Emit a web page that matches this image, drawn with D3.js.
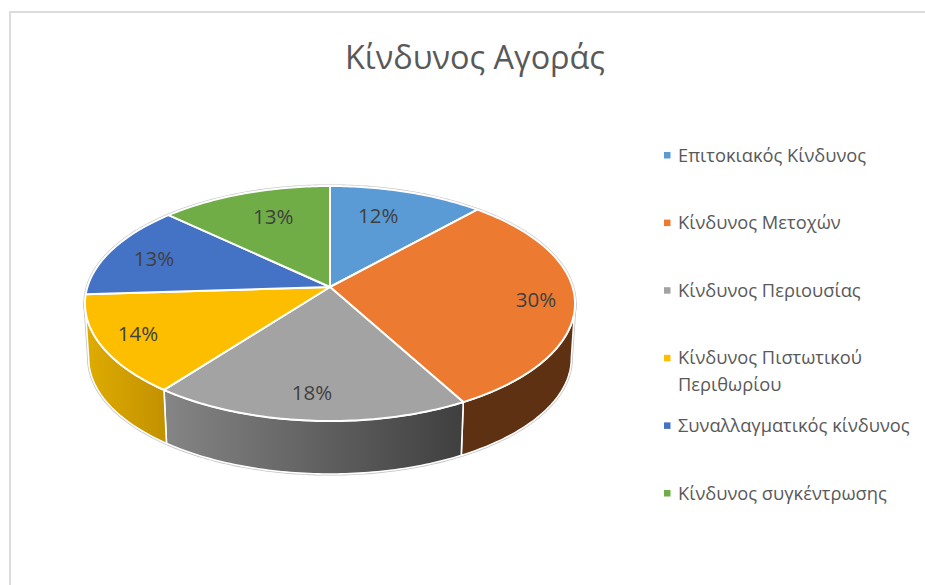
<!DOCTYPE html>
<html lang="el">
<head>
<meta charset="utf-8">
<title>Κίνδυνος Αγοράς</title>
<script src="https://cdn.jsdelivr.net/npm/d3@7"></script>
<style>
  html, body { margin: 0; padding: 0; background: #fff; }
  svg { display: block; }
  text { font-family: "Open Sans", "Noto Sans", sans-serif; }
</style>
</head>
<body>
<svg id="chart" width="925" height="585"></svg>
<script>
// --- data ---
const titleText = "Κίνδυνος Αγοράς";
const categories = ["Επιτοκιακός Κίνδυνος", "Κίνδυνος Μετοχών", "Κίνδυνος Περιουσίας",
                    "Κίνδυνος Πιστωτικού Περιθωρίου", "Συναλλαγματικός κίνδυνος", "Κίνδυνος συγκέντρωσης"];
const shares = [11.7, 30.3, 18.4, 13.6, 13, 13];
const legendLines = [["Επιτοκιακός Κίνδυνος"], ["Κίνδυνος Μετοχών"], ["Κίνδυνος Περιουσίας"],
                     ["Κίνδυνος Πιστωτικού", "Περιθωρίου"], ["Συναλλαγματικός κίνδυνος"], ["Κίνδυνος συγκέντρωσης"]];

// --- colours ---
const topColors = ["#5b9bd5", "#ec7b31", "#a3a3a3", "#fdbe00", "#4472c4", "#70ad47"];
const sideFrom  = ["#4a7fae", "#5f3113", "#858585", "#dfac00", "#38609f", "#5a8c39"];
const sideTo    = ["#4a7fae", "#5f3113", "#3f3f3f", "#c29100", "#38609f", "#5a8c39"];

// --- label placement tuning (radial fraction, turn in degrees) ---
const labelRadial = [0.708, 0.843, 0.818, 0.842, 0.792, 0.712];
const labelTurn = [-3.2, 0.9, 0.3, 0.8, -1.3, 2.3];

// --- layout ---
const W = 925, H = 585;
const cx = 330, cyTop = 287, depth = 55;
const R = 242.6, B = 115.2, K = 0.1404, lowerScale = 0.985;

const svg = d3.select("#chart");
const defs = svg.append("defs");

// Perspective projection of a point on the unit disc
function project(theta, f, lower) {
  const X = f * Math.sin(theta), Y = -f * Math.cos(theta), w = 1 - K * Y;
  const s = lower ? lowerScale : 1;
  return [cx + s * R * X / w, cyTop + (lower ? depth : 0) + s * B * Y / w];
}

const pieLayout = d3.pie().sort(null).value(d => d);
const arcs = pieLayout(shares);
const line = d3.line();
const rimSamples = (a, b) => {
  const n = Math.max(2, Math.ceil(Math.abs(b - a) * 60));
  return d3.range(n + 1).map(i => a + (b - a) * i / n);
};

// silhouette limits of the cylinder
const silA = Math.acos(-K), silB = 2 * Math.PI - silA;

// frame
svg.append("line").attr("x1", 10).attr("y1", 12).attr("x2", W).attr("y2", 12)
  .attr("stroke", "#dcdcdc").attr("stroke-width", 2);
svg.append("line").attr("x1", 10).attr("y1", 11).attr("x2", 10).attr("y2", H)
  .attr("stroke", "#dcdcdc").attr("stroke-width", 2);

// title
svg.append("text").attr("x", 475).attr("y", 69).attr("text-anchor", "middle")
  .attr("font-size", 32.4).attr("fill", "#595959").text(titleText);

// halo behind the solid
const halo = rimSamples(0, 2 * Math.PI).map(t => project(t, 1, false));
const haloLow = rimSamples(silA, silB).map(t => project(t, 1, true));
const sideOutline = rimSamples(silA, silB).map(t => project(t, 1, false))
  .concat(haloLow.slice().reverse());
svg.append("path").attr("d", line(sideOutline) + "Z")
  .attr("fill", "#fff").attr("stroke", "#c4c4c4").attr("stroke-width", 3.2).attr("stroke-linejoin", "round");
svg.append("path").attr("d", line(halo) + "Z")
  .attr("fill", "#fff").attr("stroke", "#c4c4c4").attr("stroke-width", 3.2);

// side walls
arcs.forEach((d, i) => {
  const a = Math.max(d.startAngle, silA), b = Math.min(d.endAngle, silB);
  if (b <= a) return;
  const ts = rimSamples(a, b);
  const up = ts.map(t => project(t, 1, false));
  const low = ts.map(t => project(t, 1, true));
  const gid = "side" + i;
  const xs = up.concat(low).map(p => p[0]);
  defs.append("linearGradient").attr("id", gid).attr("gradientUnits", "userSpaceOnUse")
    .attr("x1", d3.min(xs)).attr("x2", d3.max(xs)).attr("y1", 0).attr("y2", 0)
    .selectAll("stop").data([[0, sideFrom[i]], [1, sideTo[i]]]).join("stop")
    .attr("offset", s => s[0]).attr("stop-color", s => s[1]);
  svg.append("path").attr("d", line(up.concat(low.reverse())) + "Z")
    .attr("fill", `url(#${gid})`).attr("stroke", "#fff").attr("stroke-width", 1.6)
    .attr("stroke-linejoin", "round");
});

// top faces
svg.append("g").selectAll("path").data(arcs).join("path")
  .attr("d", d => {
    const pts = rimSamples(d.startAngle, d.endAngle).map(t => project(t, 1, false));
    return line([[cx, cyTop]].concat(pts)) + "Z";
  })
  .attr("fill", (d, i) => topColors[i])
  .attr("stroke", "#fff").attr("stroke-width", 2).attr("stroke-linejoin", "round");

// value labels
const pct = d3.format(".0f");
svg.append("g").selectAll("text").data(arcs).join("text")
  .attr("transform", (d, i) => {
    const mid = (d.startAngle + d.endAngle) / 2 + labelTurn[i] * Math.PI / 180;
    const p = project(mid, labelRadial[i], false);
    return `translate(${p[0]},${p[1]})`;
  })
  .attr("text-anchor", "middle").attr("dy", "0.36em")
  .attr("font-size", 20.5).attr("fill", "#404040")
  .text(d => pct(d.value) + "%");

// legend
const legendY = d3.scalePoint().domain(categories).range([155, 493]);
const legend = svg.append("g").selectAll("g").data(categories).join("g")
  .attr("transform", c => `translate(664,${legendY(c)})`);
legend.append("rect").attr("x", 0).attr("y", -3).attr("width", 6.5).attr("height", 6.5)
  .attr("fill", (c, i) => topColors[i]);
legend.each(function (c, i) {
  d3.select(this).selectAll("text").data(legendLines[i]).join("text")
    .attr("x", 14).attr("y", (l, j) => j * 27)
    .attr("dy", "0.36em").attr("font-size", 18.3).attr("fill", "#595959")
    .text(l => l);
});
</script>
</body>
</html>
